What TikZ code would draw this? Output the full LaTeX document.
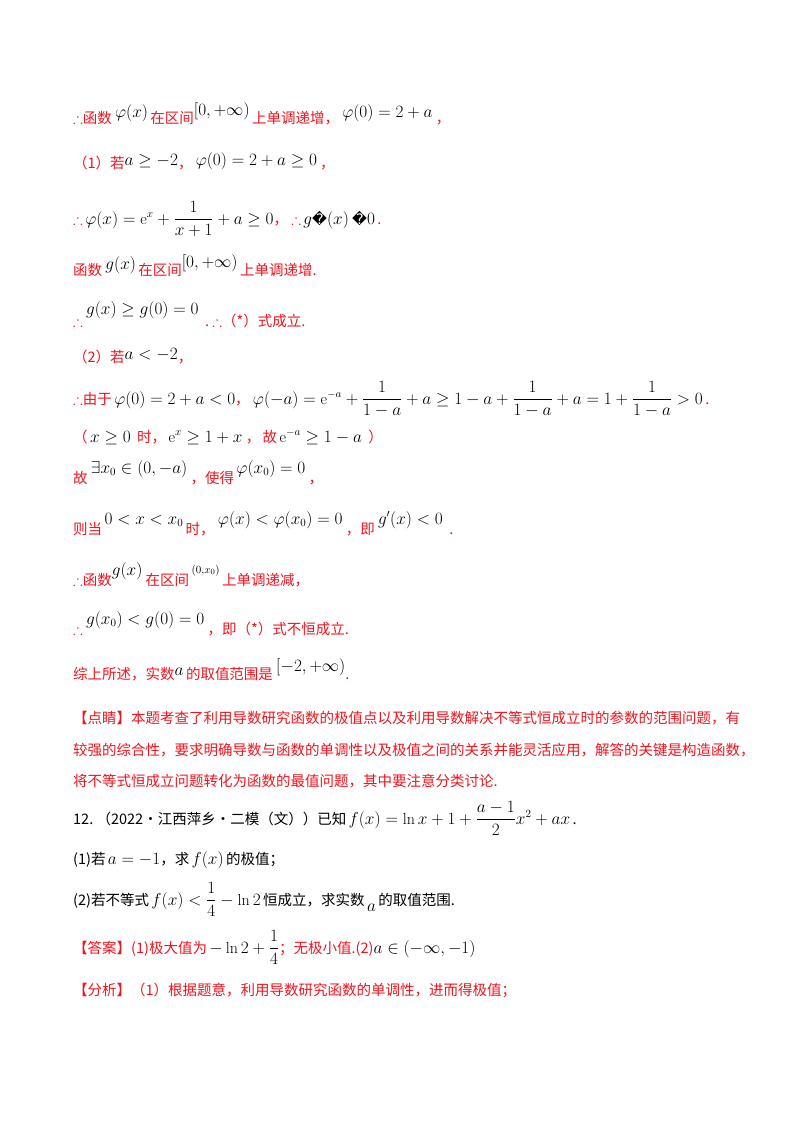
\documentclass[tikz,border=0pt]{standalone}
\usepackage{amsmath,amssymb}
\usepackage{fontspec}
\newfontfamily\cjk{Noto Sans CJK SC}
\newfontfamily\fallbk{DejaVu Sans}
\definecolor{ansred}{RGB}{240,20,30}
\newcommand\mth[2][6pt]{\raisebox{#1}{\fontsize{16}{18}\selectfont\color{black}$#2$}}
\newcommand\thf{\mth[0pt]{\therefore}}
\tikzset{
  line/.style = {anchor=base west, inner sep=0pt, text=ansred,
    font=\cjk\fontsize{14.5}{17}\selectfont},
  blk/.style = {line, text=black}
}
\begin{document}
\begin{tikzpicture}[x=1pt,y=-1pt]
  \useasboundingbox[fill=white] (0,0) rectangle (800,1132);
  % (1) a >= -2
  \node[line] (l1) at (73,123) {{\color{ansred}$\therefore$}函数\ \mth{\varphi(x)}\,在区间\mth[8pt]{[0,+\infty)}\,上单调递增，\ \mth{\varphi(0)=2+a}\ ，};
  \node[line] (l2) at (73,168) {（1）若\mth[3pt]{a\ge-2}，\ \mth[3pt]{\varphi(0)=2+a\ge 0}\ ，};
  \node[line] (l3) at (73,224) {$\therefore$\,\mth[0pt]{\varphi(x)=\mathrm{e}^x+\dfrac{1}{x+1}+a\ge0}，\ $\therefore$\,\mth[0pt]{g}{\fallbk\color{black}\char"FFFD}\mth[0pt]{(x)}\ {\fallbk\color{black}\char"FFFD}\mth[0pt]{0}\,.};
  \node[line] (l4) at (73,275) {函数\ \mth{g(x)}\,在区间\mth[8pt]{[0,+\infty)}\,上单调递增.};
  \node[line] (l5) at (73,326) {$\therefore$\ \mth[12pt]{g(x)\ge g(0)=0}\ \ .\ $\therefore$（*）式成立.};
  % (2) a < -2
  \node[line] (l6) at (73,362) {（2）若\mth[3pt]{a<-2}，};
  \node[line] (l7) at (73,404) {$\therefore$由于\,\mth[0pt]{\varphi(0)=2+a<0}，\ \mth[0pt]{\varphi(-a)=\mathrm{e}^{-a}+\dfrac{1}{1-a}+a\ge1-a+\dfrac{1}{1-a}+a=1+\dfrac{1}{1-a}>0}\,.};
  \node[line] (l8) at (73,442) {（\,\mth[0pt]{x\ge0}\ \ 时，\,\mth[0pt]{\mathrm{e}^x\ge1+x}\ ，\,故\,\mth[0pt]{\mathrm{e}^{-a}\ge1-a}\ \ ）};
  \node[line] (l9) at (73,483) {故\ \mth[10pt]{\exists x_0\in(0,-a)}\ ，使得\,\mth[10pt]{\varphi(x_0)=0}\ ，};
  \node[line] (l10) at (73,534) {则当\,\mth[10pt]{0<x<x_0}\,时，\ \mth[10pt]{\varphi(x)<\varphi(x_0)=0}\ ，即\ \mth[10pt]{g'(x)<0}\ \ .};
  \node[line] (l11) at (73,585) {$\therefore$函数\mth[10pt]{g(x)}\ 在区间\,\mth[12pt]{\scriptstyle(0,x_0)}\,上单调递减，};
  \node[line] (l12) at (73,634) {$\therefore$\ \mth[10pt]{g(x_0)<g(0)=0}\ ，即（*）式不恒成立.};
  \node[line] (l13) at (73,679) {综上所述，实数\mth[4pt]{a}\,的取值范围是\ \mth[8pt]{[-2,+\infty)}.};
  % comment
  \node[line] (l14) at (73,723) {【点睛】本题考查了利用导数研究函数的极值点以及利用导数解决不等式恒成立时的参数的范围问题，有};
  \node[line] (l15) at (73,755) {较强的综合性，要求明确导数与函数的单调性以及极值之间的关系并能灵活应用，解答的关键是构造函数，};
  \node[line] (l16) at (73,786) {将不等式恒成立问题转化为函数的最值问题，其中要注意分类讨论.};
  % problem 12
  \node[blk] (l17) at (73,824) {12.\ （2022·江西萍乡·二模（文））已知\,\mth[0pt]{f(x)=\ln x+1+\dfrac{a-1}{2}x^2+ax}\,.};
  \node[blk] (l18) at (73,864) {(1)若\,\mth[0pt]{a=-1}，求\,\mth[0pt]{f(x)}\,的极值；};
  \node[blk] (l19) at (73,905) {(2)若不等式\,\mth[0pt]{f(x)<\dfrac14-\ln2}\,恒成立，求实数\,\mth[-6pt]{a}\,的取值范围.};
  \node[line] (l20) at (73,953) {【答案】(1)极大值为\,\mth[0pt]{-\ln2+\dfrac14}；无极小值.(2)\mth[0pt]{a\in(-\infty,-1)}};
  \node[line] (l21) at (73,995) {【分析】（1）根据题意，利用导数研究函数的单调性，进而得极值；};
\end{tikzpicture}
\end{document}
